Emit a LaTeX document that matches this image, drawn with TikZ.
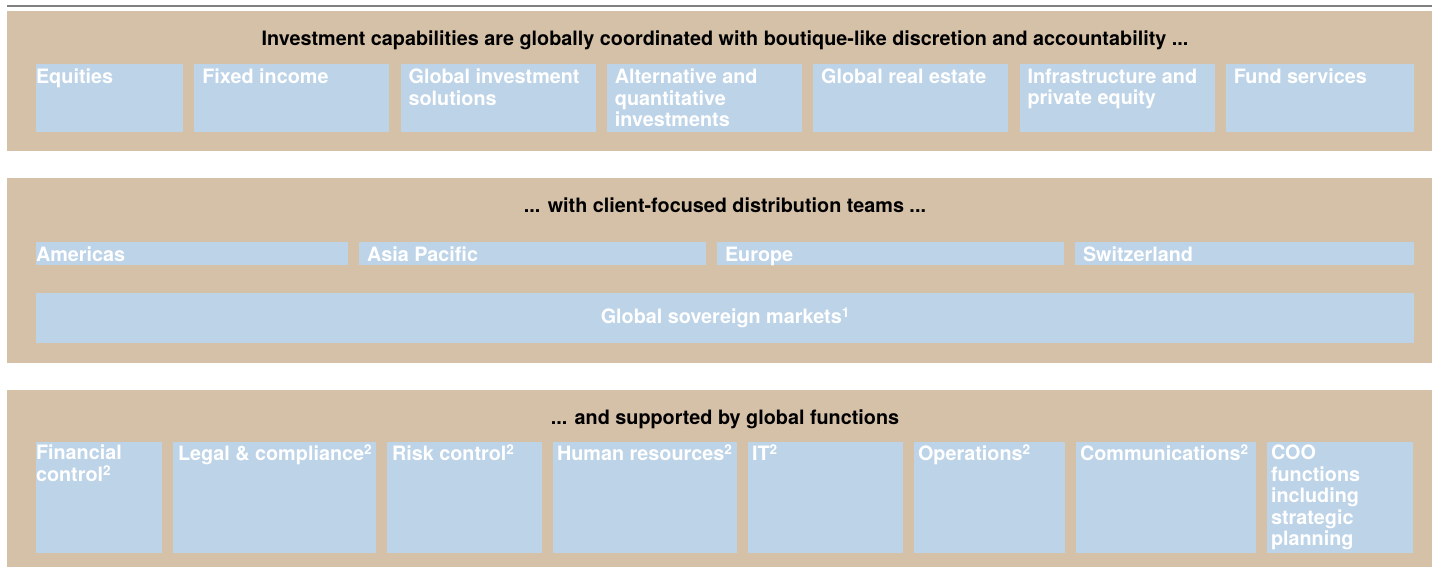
\documentclass[tikz,border=0pt]{standalone}
\usepackage{fontspec}
\setmainfont{TeX Gyre Heros}
\usetikzlibrary{positioning}

\definecolor{panelTan}{HTML}{D5C0A8}
\definecolor{unitBlue}{HTML}{BDD3E7}
\definecolor{ruleGray}{HTML}{808080}

% small raised footnote marks
\newcommand{\fnmark}[1]{\raisebox{6pt}{\fontsize{13.5}{13.5}\selectfont #1}}

\begin{document}
\begin{tikzpicture}[x=1pt,y=-1pt,
    every node/.style={inner sep=0pt,outer sep=0pt},
    unit/.style={fill=unitBlue},
    capability/.style={unit,minimum height=68pt,minimum width=#1},
    capability/.default=195pt,
    region/.style={unit,minimum height=23pt,minimum width=#1},
    function/.style={unit,minimum height=111pt,minimum width=#1},
    title/.style={font=\fontsize{19.8}{22}\selectfont\bfseries,anchor=base},
    unitlabel/.style={text=white,font=\fontsize{19.8}{21.5}\selectfont\bfseries,align=left,anchor=north west}]

\useasboundingbox (0,0) rectangle (1432,567);
\draw[ruleGray,line width=2pt] (7,6.5) -- (1432,6.5);

% panels
\fill[panelTan] (7,11) rectangle (1432,151);
\fill[panelTan] (7,178) rectangle (1432,363);
\fill[panelTan] (7,390) rectangle (1432,567);

%%% investment capabilities
\node[title] (capTitle) at (725,46) {Investment capabilities are globally coordinated with boutique-like discretion and accountability ...};

\node[capability=147pt,anchor=north west] (equities) at (36,64) {};
\node[capability, right=11.3pt of equities] (fixedinc) {};
\node[capability, right=11.3pt of fixedinc] (globalinv) {};
\node[capability, right=11.3pt of globalinv] (altquant) {};
\node[capability, right=11.3pt of altquant] (realestate) {};
\node[capability, right=11.3pt of realestate] (infra) {};
\node[capability=188pt, right=11.3pt of infra] (fundsvc) {};

\node[unitlabel] (equitiesL) at ([yshift=-5pt]equities.north west) {Equities};
\node[unitlabel] (fixedincL) at ([xshift=8pt,yshift=-5pt]fixedinc.north west) {Fixed income};
\node[unitlabel] (globalinvL) at ([xshift=8pt,yshift=-5pt]globalinv.north west) {Global investment\\solutions};
\node[unitlabel] (altquantL) at ([xshift=8pt,yshift=-5pt]altquant.north west) {Alternative and\\quantitative\\investments};
\node[unitlabel] (realestateL) at ([xshift=8pt,yshift=-5pt]realestate.north west) {Global real estate};
\node[unitlabel] (infraL) at ([xshift=8pt,yshift=-5pt]infra.north west) {Infrastructure and\\private equity};
\node[unitlabel] (fundsvcL) at ([xshift=8pt,yshift=-5pt]fundsvc.north west) {Fund services};

%%% distribution
\node[title] (distTitle) at (725,212) {... with client-focused distribution teams ...};

\node[region=312pt,anchor=north west] (americas) at (36,242) {};
\node[region=347pt, right=11pt of americas] (asiapac) {};
\node[region=347pt, right=11pt of asiapac] (europe) {};
\node[region=339pt, right=11pt of europe] (swiss) {};

\node[unitlabel] (americasL) at ([yshift=-5pt]americas.north west) {Americas};
\node[unitlabel] (asiapacL) at ([xshift=8pt,yshift=-5pt]asiapac.north west) {Asia Pacific};
\node[unitlabel] (europeL) at ([xshift=8pt,yshift=-5pt]europe.north west) {Europe};
\node[unitlabel] (swissL) at ([xshift=8pt,yshift=-5pt]swiss.north west) {Switzerland};

\node[unit,minimum width=1378pt,minimum height=50pt,anchor=north west,
      text=white,font=\fontsize{19.8}{22}\selectfont\bfseries] (sovereign) at (36,293)
      {Global sovereign markets\fnmark{1}};

%%% global functions
\node[title] (funcTitle) at (725,424) {... and supported by global functions};

\node[function=126pt,anchor=north west] (fincontrol) at (36,442) {};
\node[function=203pt, right=11pt of fincontrol] (legal) {};
\node[function=155pt, right=11pt of legal] (risk) {};
\node[function=184pt, right=11pt of risk] (hr) {};
\node[function=155pt, right=11pt of hr] (it) {};
\node[function=151pt, right=11pt of it] (ops) {};
\node[function=180pt, right=11pt of ops] (comms) {};
\node[function=146pt, right=11pt of comms] (coo) {};

\node[unitlabel] (fincontrolL) at ([yshift=-3pt]fincontrol.north west) {Financial\\control\fnmark{2}};
\node[unitlabel] (legalL) at ([xshift=5pt,yshift=-3pt]legal.north west) {Legal \& compliance\fnmark{2}};
\node[unitlabel] (riskL) at ([xshift=5pt,yshift=-3pt]risk.north west) {Risk control\fnmark{2}};
\node[unitlabel] (hrL) at ([xshift=4pt,yshift=-3pt]hr.north west) {Human resources\fnmark{2}};
\node[unitlabel] (itL) at ([xshift=4pt,yshift=-3pt]it.north west) {IT\fnmark{2}};
\node[unitlabel] (opsL) at ([xshift=4pt,yshift=-3pt]ops.north west) {Operations\fnmark{2}};
\node[unitlabel] (commsL) at ([xshift=4pt,yshift=-3pt]comms.north west) {Communications\fnmark{2}};
\node[unitlabel] (cooL) at ([xshift=4pt,yshift=-3pt]coo.north west) {COO\\functions\\including\\strategic\\planning};

\end{tikzpicture}
\end{document}
